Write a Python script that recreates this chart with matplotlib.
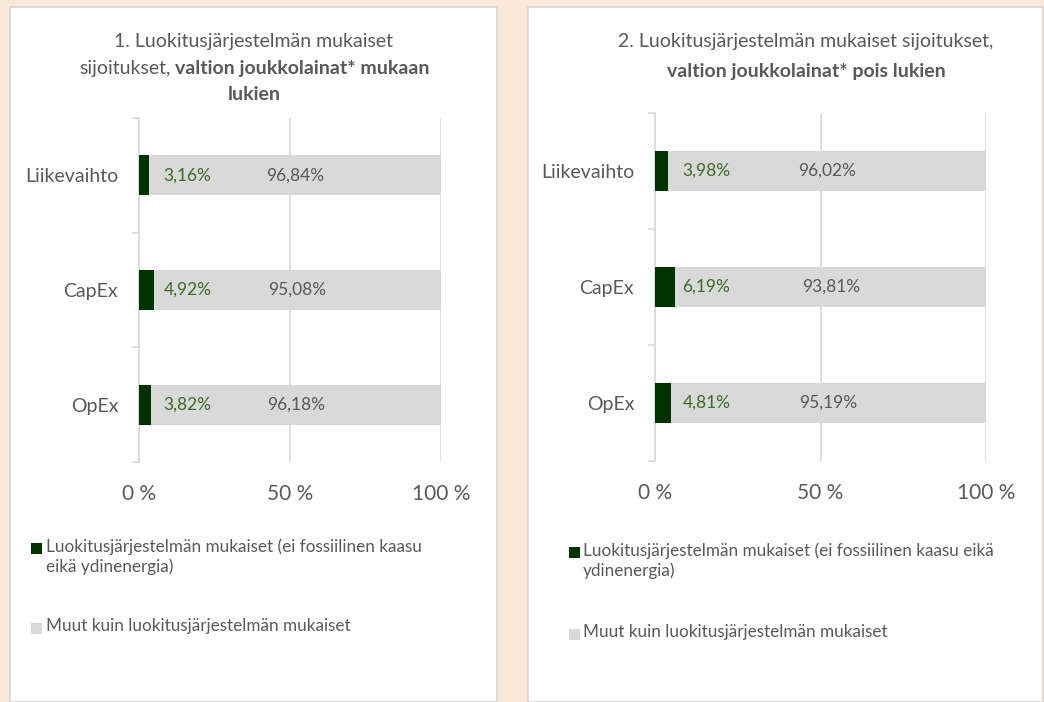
import matplotlib
matplotlib.use('Agg')
import matplotlib.pyplot as plt
from matplotlib.patches import Rectangle
from matplotlib.offsetbox import TextArea, HPacker, VPacker, AnnotationBbox

plt.rcParams['font.family'] = ['Lato', 'DejaVu Sans']

# data
categories = ['Liikevaihto', 'CapEx', 'OpEx']
aligned_incl = [3.16, 4.92, 3.82]
other_incl = [96.84, 95.08, 96.18]
aligned_excl = [3.98, 6.19, 4.81]
other_excl = [96.02, 93.81, 95.19]
tick_values = [0, 50, 100]
tick_labels = ['0 %', '50 %', '100 %']
legend_labels_1 = ['Luokitusjärjestelmän mukaiset (ei fossiilinen kaasu\neikä ydinenergia)',
                   'Muut kuin luokitusjärjestelmän mukaiset']
legend_labels_2 = ['Luokitusjärjestelmän mukaiset (ei fossiilinen kaasu eikä\nydinenergia)',
                   'Muut kuin luokitusjärjestelmän mukaiset']

W, H = 1044, 702
BG = '#FAE8D8'
DARK = '#003300'
GREY = '#D9D9D9'
TXT = '#595959'
GREEN_TXT = '#3D6B26'


def fx(px):
    return px / W


def fy(py):
    return 1 - py / H


def pct(v):
    return '{:.2f}%'.format(v).replace('.', ',')


fig = plt.figure(figsize=(W / 100, H / 100), dpi=100, facecolor=BG)

# white panels behind everything
for x0, x1 in [(10, 497), (528, 1043)]:
    fig.patches.append(Rectangle((fx(x0), 0), fx(x1 - x0), fy(7), transform=fig.transFigure,
                                 facecolor='white', edgecolor='#D6D6D6', linewidth=1.2, zorder=-5))


def draw_panel(rect, aligned, other, label_x):
    ax = fig.add_axes(rect, zorder=2)
    ax.set_facecolor('none')
    y = range(len(categories))
    ax.barh(y, aligned, height=0.35, color=DARK, zorder=3)
    ax.barh(y, other, left=aligned, height=0.35, color=GREY, zorder=3)
    for i, (a, o) in enumerate(zip(aligned, other)):
        ax.text(label_x, i, pct(a), ha='center', va='center', fontsize=12.5, color=GREEN_TXT, zorder=4)
        ax.text(a + o / 2, i, pct(o), ha='center', va='center', fontsize=12.5, color=TXT, zorder=4)
    ax.set_xlim(0, 100)
    ax.set_ylim(len(categories) - 0.5, -0.5)
    ax.set_xticks(tick_values)
    ax.set_xticklabels(tick_labels, fontsize=15, color=TXT)
    ax.tick_params(axis='x', length=0, pad=16)
    ax.set_yticks(list(y))
    ax.set_yticklabels(categories, fontsize=14, color=TXT)
    ax.tick_params(axis='y', which='major', length=0, pad=15)
    ax.set_yticks([i - 0.5 for i in range(len(categories) + 1)], minor=True)
    ax.tick_params(axis='y', which='minor', length=5, color=GREY, width=1.2)
    ax.grid(axis='x', color=GREY, linewidth=1.2, zorder=0)
    ax.set_axisbelow(True)
    for s in ['top', 'right', 'bottom']:
        ax.spines[s].set_visible(False)
    ax.spines['left'].set_color(GREY)
    ax.spines['left'].set_linewidth(1.2)
    return ax


draw_panel([fx(139), fy(462), fx(302), fy(118) - fy(462)], aligned_incl, other_incl, 16)
draw_panel([fx(655), fy(461), fx(331), fy(113) - fy(461)], aligned_excl, other_excl, 15.5)


def title(lines, cx, top, sep):
    rows = []
    for parts in lines:
        boxes = [TextArea(t, textprops=dict(fontsize=14, color=TXT,
                                            fontweight='bold' if b else 'normal'))
                 for t, b in parts]
        rows.append(HPacker(children=boxes, align='baseline', pad=0, sep=3))
    pack = VPacker(children=rows, align='center', pad=0, sep=sep)
    ab = AnnotationBbox(pack, (fx(cx), fy(top)), xycoords='figure fraction',
                        box_alignment=(0.5, 1), frameon=False)
    fig.add_artist(ab)


title([[('1. Luokitusjärjestelmän mukaiset', False)],
       [('sijoitukset,', False), ('valtion joukkolainat* mukaan', True)],
       [('lukien', True)]], 254, 33, 7)
title([[('2. Luokitusjärjestelmän mukaiset sijoitukset,', False)],
       [('valtion joukkolainat* pois lukien', True)]], 806, 33, 9)


def legend(labels, x_sq, x_txt, ys):
    for (y, lab, col) in zip(ys, labels, [DARK, GREY]):
        fig.patches.append(Rectangle((fx(x_sq), fy(y + 5)), fx(11), fy(0) - fy(11),
                                     transform=fig.transFigure, facecolor=col, edgecolor='none'))
        fig.text(fx(x_txt), fy(y - 11), lab, fontsize=12.3, color=TXT, va='top', ha='left',
                 linespacing=1.3)


legend(legend_labels_1, 31, 46, [549, 629])
legend(legend_labels_2, 569, 583, [553, 635])

fig.savefig('out.png', dpi=100, facecolor=BG)
